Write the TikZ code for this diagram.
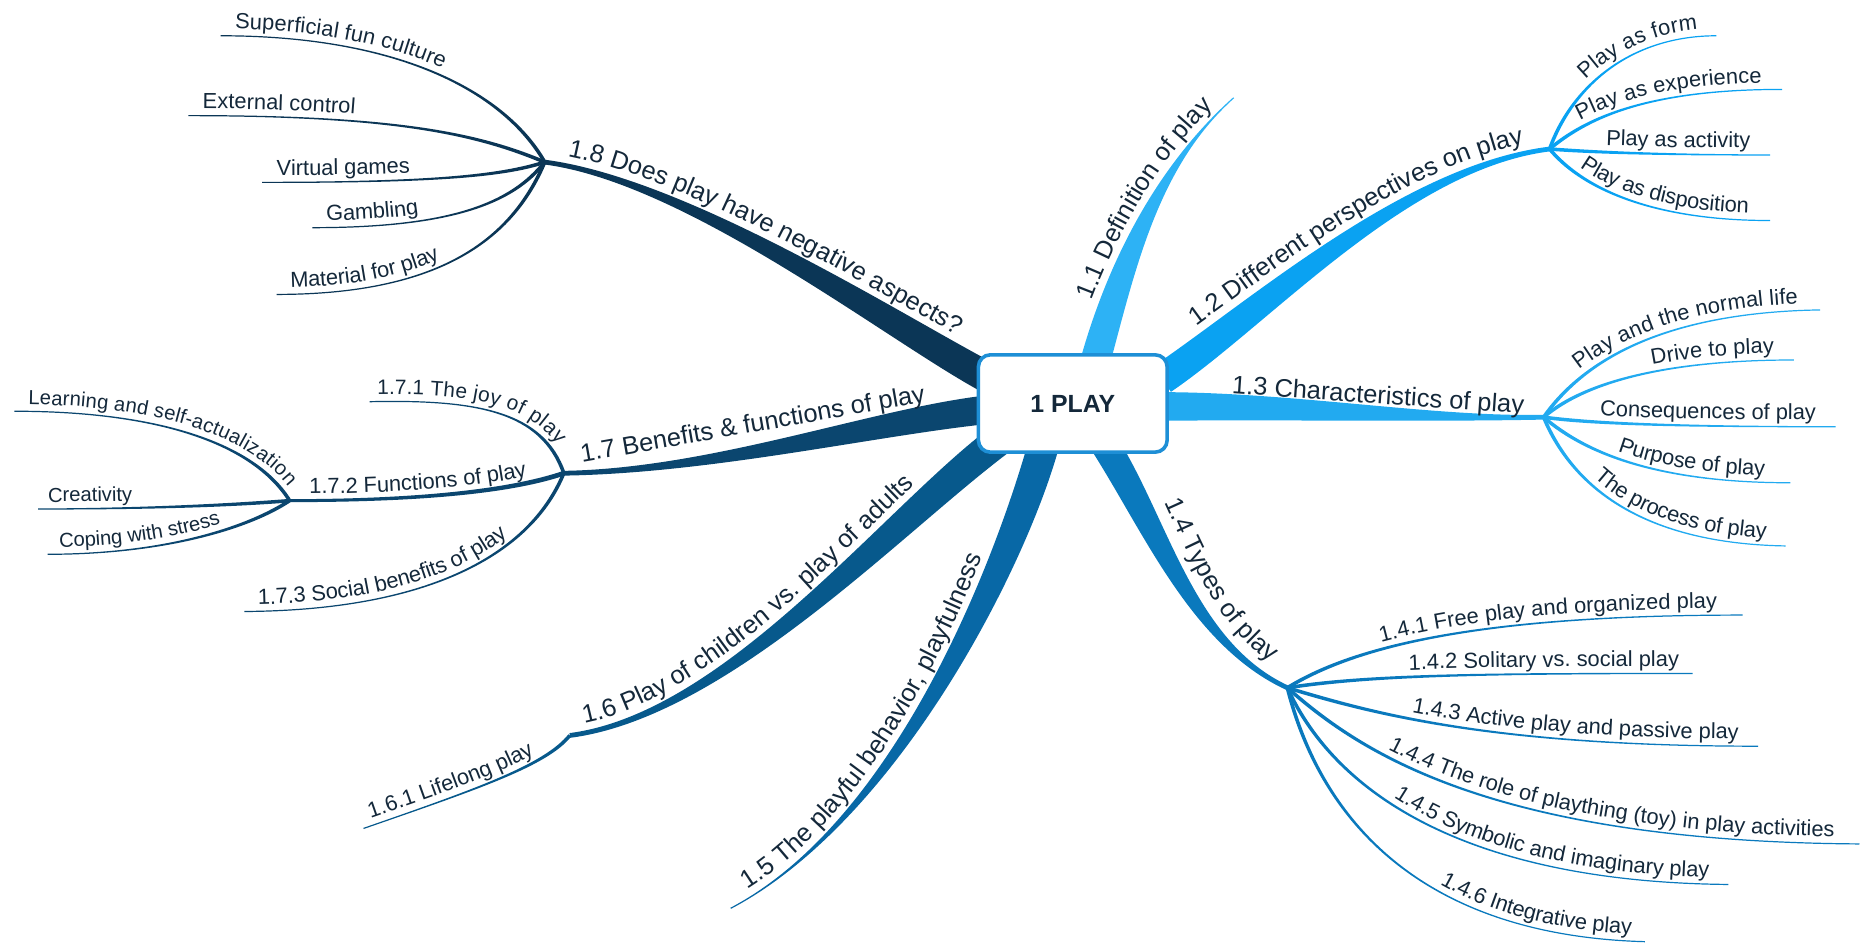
\documentclass[tikz,border=0pt]{standalone}
\usepackage{fontspec}
\setmainfont{Liberation Sans}
\usetikzlibrary{decorations.text}
\definecolor{cA}{HTML}{2DB2F5}
\definecolor{cB}{HTML}{0AA2F2}
\definecolor{cC}{HTML}{22AAF0}
\definecolor{cD}{HTML}{0A79BD}
\definecolor{cE}{HTML}{0868A6}
\definecolor{cF}{HTML}{07598C}
\definecolor{cG}{HTML}{0B466F}
\definecolor{cH}{HTML}{0B3656}
\definecolor{textc}{HTML}{14283A}
\definecolor{boxc}{HTML}{1E8FD6}
\newcommand\fntone{\fontsize{12.8}{15}\selectfont\color{textc}}
\newcommand\fnttwo{\fontsize{11}{13}\selectfont\color{textc}}
\newcommand\fnttwos{\fontsize{10.5}{12.5}\selectfont\color{textc}}
\newcommand\fntthree{\fontsize{10.2}{12}\selectfont\color{textc}}
% canvas position of a coordinate, as plain numbers (pt)
\newcommand\getxy[3]{\path #1; \pgfgetlastxy{#2}{#3}\pgfmathsetmacro#2{#2}\pgfmathsetmacro#3{#3}}
% tapered branch: colour, start width, end width (px), start, control 1, control 2, end
\newcommand\taper[7]{%
  \getxy{#4}{\tpax}{\tpay}\getxy{#5}{\tpbx}{\tpby}%
  \getxy{#6}{\tpcx}{\tpcy}\getxy{#7}{\tpdx}{\tpdy}%
  \pgfmathsetmacro\tpla{veclen(\tpbx-\tpax,\tpby-\tpay)}%
  \pgfmathsetmacro\tpux{(\tpay-\tpby)/\tpla*#2*0.3}%
  \pgfmathsetmacro\tpuy{(\tpbx-\tpax)/\tpla*#2*0.3}%
  \pgfmathsetmacro\tplb{veclen(\tpdx-\tpcx,\tpdy-\tpcy)}%
  \pgfmathsetmacro\tpvx{(\tpcy-\tpdy)/\tplb*#3*0.3}%
  \pgfmathsetmacro\tpvy{(\tpdx-\tpcx)/\tplb*#3*0.3}%
  \pgfmathsetmacro\tpAx{\tpax+(\tpux)}\pgfmathsetmacro\tpAy{\tpay+(\tpuy)}%
  \pgfmathsetmacro\tpBx{\tpbx+(\tpux)}\pgfmathsetmacro\tpBy{\tpby+(\tpuy)}%
  \pgfmathsetmacro\tpCx{\tpcx+(\tpvx)}\pgfmathsetmacro\tpCy{\tpcy+(\tpvy)}%
  \pgfmathsetmacro\tpDx{\tpdx+(\tpvx)}\pgfmathsetmacro\tpDy{\tpdy+(\tpvy)}%
  \pgfmathsetmacro\tpEx{\tpdx-(\tpvx)}\pgfmathsetmacro\tpEy{\tpdy-(\tpvy)}%
  \pgfmathsetmacro\tpFx{\tpcx-(\tpvx)}\pgfmathsetmacro\tpFy{\tpcy-(\tpvy)}%
  \pgfmathsetmacro\tpGx{\tpbx-(\tpux)}\pgfmathsetmacro\tpGy{\tpby-(\tpuy)}%
  \pgfmathsetmacro\tpHx{\tpax-(\tpux)}\pgfmathsetmacro\tpHy{\tpay-(\tpuy)}%
  \fill[#1] (\tpAx pt,\tpAy pt) .. controls (\tpBx pt,\tpBy pt) and (\tpCx pt,\tpCy pt) .. (\tpDx pt,\tpDy pt)
    -- (\tpEx pt,\tpEy pt) .. controls (\tpFx pt,\tpFy pt) and (\tpGx pt,\tpGy pt) .. (\tpHx pt,\tpHy pt) -- cycle;
}
% leaf running to the left: colour, start width, font, text, junction, c1, c2, end, indent
\newcommand\leafL[9]{%
  \taper{#1}{#2}{1}{#5}{#6}{#7}{#8}%
  \path[decorate, decoration={text along path, text={|#3|#4}, raise=3.5pt,
    text align={left, left indent=#9}}] #8 .. controls #7 and #6 .. #5;}
% leaf running to the right
\newcommand\leafR[9]{%
  \taper{#1}{#2}{1}{#5}{#6}{#7}{#8}%
  \path[decorate, decoration={text along path, text={|#3|#4}, raise=3.5pt,
    text align={right, right indent=#9}}] #5 .. controls #6 and #7 .. #8;}
\tikzset{
  lvlone/.style={font=\fontsize{12.8}{15}\selectfont, text=textc, inner sep=0pt, anchor=base west},
  rootbox/.style={draw=boxc, line width=1.8pt, rounded corners=6pt, fill=white,
    minimum width=95pt, minimum height=49pt, inner sep=0pt,
    font=\fontsize{12.5}{15}\selectfont\bfseries, text=textc},
  alongL/.style={decorate, decoration={text along path, text={|\fntone|#1}, text align={left, left indent=\lind}}},
  alongR/.style={decorate, decoration={text along path, text={|\fntone|#1}, text align={right, right indent=\rind}}}
}
\def\lind{10pt}\def\rind{12pt}
\begin{document}
\begin{tikzpicture}[x=0.6pt,y=-0.6pt]
\useasboundingbox (0,0) rectangle (1568,794);

% junctions and branch ends
\coordinate (J8) at (457,136);
\coordinate (J7) at (473,397);
\coordinate (J72) at (243,420);
\coordinate (J6) at (478,617);
\coordinate (T5) at (613,762);
\coordinate (J4) at (1080,577);
\coordinate (J3) at (1295,350);
\coordinate (J2) at (1300,125);
\coordinate (T1) at (1035,82);
% branch roots under the central box
\coordinate (B8) at (835,320);
\coordinate (B7) at (835,343);
\coordinate (B6) at (840,368);
\coordinate (B5) at (875,375);
\coordinate (B4) at (925,370);
\coordinate (B3) at (965,341);
\coordinate (B2) at (975,318);
\coordinate (B1) at (917,310);
% leaf ends
\coordinate (E81) at (185,30);
\coordinate (E82) at (158,97);
\coordinate (E83) at (220,153);
\coordinate (E84) at (262,191);
\coordinate (E85) at (232,247);
\coordinate (E71) at (310,337);
\coordinate (E73) at (205,513);
\coordinate (E721) at (12,345);
\coordinate (E722) at (32,427);
\coordinate (E723) at (40,465);
\coordinate (E61) at (305,695);
\coordinate (E41) at (1462,516);
\coordinate (E42) at (1420,565);
\coordinate (E43) at (1475,626);
\coordinate (E44) at (1560,708);
\coordinate (E45) at (1450,742);
\coordinate (E46) at (1380,790);
\coordinate (E31) at (1527,260);
\coordinate (E32) at (1505,302);
\coordinate (E33) at (1540,358);
\coordinate (E34) at (1502,405);
\coordinate (E35) at (1498,458);
\coordinate (E21) at (1440,30);
\coordinate (E22) at (1495,75);
\coordinate (E23) at (1485,130);
\coordinate (E24) at (1485,185);

% main branches
\taper{cH}{26}{4}{(B8)}{(760,282)}{(580,152)}{(J8)}
\taper{cG}{24}{4}{(B7)}{(740,352)}{(600,395)}{(J7)}
\taper{cF}{26}{4}{(B6)}{(750,435)}{(610,600)}{(J6)}
\taper{cE}{26}{1}{(B5)}{(845,480)}{(750,690)}{(T5)}
\taper{cD}{24}{4}{(B4)}{(970,440)}{(1000,540)}{(J4)}
\taper{cC}{24}{4}{(B3)}{(1080,340)}{(1200,352)}{(J3)}
\taper{cB}{26}{4}{(B2)}{(1060,260)}{(1180,140)}{(J2)}
\taper{cA}{25}{1}{(B1)}{(940,225)}{(970,140)}{(T1)}

% main topic labels, set along lines running beside their branches
\def\lind{11pt}
\path[alongL={1.8 Does play have negative aspects?}] (458,128) .. controls (581,144) and (768,265) .. (843,303);
\def\lind{8pt}
\path[alongL={1.6 Play of children vs. play of adults}] (477,609) .. controls (609,592) and (739,420) .. (829,353);
\def\lind{12pt}
\path[alongL={1.5 The playful behavior, playfulness}] (610,756) .. controls (747,684) and (827,475) .. (857,370);
\def\rind{12.6pt}
\path[alongR={1.2 Different perspectives on play}] (964,302) .. controls (1049,244) and (1179,132) .. (1299,117);
\def\rind{11pt}
\path[alongR={1.1 Definition of play}] (899,305) .. controls (922,220) and (966,135) .. (1031,77);
\def\rind{14pt}
\path[alongR={1.4 Types of play}] (944,358) .. controls (989,428) and (1006,530) .. (1086,567);
\node[lvlone, rotate=-4] (t13) at (1033,330) {1.3 Characteristics of play};
\node[lvlone, rotate=10] (t17) at (488,388) {1.7 Benefits \& functions of play};

% 1.8 leaves
\leafL{cH}{3}{\fnttwo}{Superficial fun culture}{(J8)}{(425,80)}{(340,30)}{(E81)}{7.2pt}
\leafL{cH}{3}{\fnttwo}{External control}{(J8)}{(400,112)}{(330,97)}{(E82)}{7.2pt}
\leafL{cH}{3}{\fnttwo}{Virtual games}{(J8)}{(420,148)}{(360,153)}{(E83)}{7.2pt}
\leafL{cH}{3}{\fnttwo}{Gambling}{(J8)}{(430,170)}{(380,191)}{(E84)}{7.2pt}
\leafL{cH}{3}{\fnttwo}{Material for play}{(J8)}{(430,200)}{(370,247)}{(E85)}{7.2pt}
% 1.7 leaves
\leafL{cG}{3}{\fnttwos}{1.7.1 The joy of play}{(J7)}{(455,345)}{(400,335)}{(E71)}{4pt}
\taper{cG}{4}{2.5}{(J7)}{(420,415)}{(330,420)}{(J72)}
\path[decorate, decoration={text along path, text={|\fnttwo|1.7.2 Functions of play}, raise=3.5pt,
  text align={left, left indent=10pt}}] (J72) .. controls (330,420) and (420,415) .. (J7);
\leafL{cG}{3}{\fnttwo}{1.7.3 Social benefits of play}{(J7)}{(445,465)}{(360,512)}{(E73)}{7pt}
\leafL{cG}{3}{\fntthree}{Learning and self-actualization}{(J72)}{(215,375)}{(140,345)}{(E721)}{7pt}
\leafL{cG}{3}{\fntthree}{Creativity}{(J72)}{(180,425)}{(100,427)}{(E722)}{5pt}
\leafL{cG}{3}{\fntthree}{Coping with stress}{(J72)}{(210,442)}{(140,465)}{(E723)}{6pt}
% 1.6 leaf
\leafL{cF}{3}{\fnttwo}{1.6.1 Lifelong play}{(J6)}{(458,642)}{(400,662)}{(E61)}{5pt}
% 1.4 leaves
\leafR{cD}{3}{\fnttwo}{1.4.1 Free play and organized play}{(J4)}{(1140,540)}{(1250,516)}{(E41)}{13pt}
\leafR{cD}{3}{\fnttwo}{1.4.2 Solitary vs. social play}{(J4)}{(1150,566)}{(1250,565)}{(E42)}{7pt}
\leafR{cD}{3}{\fnttwo}{1.4.3 Active play and passive play}{(J4)}{(1150,598)}{(1250,626)}{(E43)}{10pt}
\leafR{cD}{3}{\fnttwo}{1.4.4 The role of plaything (toy) in play activities}{(J4)}{(1140,630)}{(1250,706)}{(E44)}{13pt}
\leafR{cD}{3}{\fnttwo}{1.4.5 Symbolic and imaginary play}{(J4)}{(1120,665)}{(1230,740)}{(E45)}{10pt}
\leafR{cD}{3}{\fnttwo}{1.4.6 Integrative play}{(J4)}{(1110,695)}{(1200,785)}{(E46)}{7pt}
% 1.3 leaves
\leafR{cC}{3}{\fnttwo}{Play and the normal life}{(J3)}{(1330,300)}{(1400,262)}{(E31)}{11pt}
\leafR{cC}{3}{\fnttwo}{Drive to play}{(J3)}{(1330,320)}{(1400,302)}{(E32)}{10pt}
\leafR{cC}{3}{\fnttwo}{Consequences of play}{(J3)}{(1340,356)}{(1420,358)}{(E33)}{10pt}
\leafR{cC}{3}{\fnttwo}{Purpose of play}{(J3)}{(1330,380)}{(1390,405)}{(E34)}{13pt}
\leafR{cC}{3}{\fnttwo}{The process of play}{(J3)}{(1320,410)}{(1380,456)}{(E35)}{10pt}
% 1.2 leaves
\leafR{cB}{3}{\fnttwo}{Play as form}{(J2)}{(1320,70)}{(1370,30)}{(E21)}{9pt}
\leafR{cB}{3}{\fnttwo}{Play as experience}{(J2)}{(1330,100)}{(1380,75)}{(E22)}{10pt}
\leafR{cB}{3}{\fnttwo}{Play as activity}{(J2)}{(1340,128)}{(1400,130)}{(E23)}{10pt}
\leafR{cB}{3}{\fnttwo}{Play as disposition}{(J2)}{(1325,155)}{(1380,185)}{(E24)}{11pt}

% central topic
\node[rootbox] (root) at (900,338.5) {1 PLAY};
\end{tikzpicture}
\end{document}
